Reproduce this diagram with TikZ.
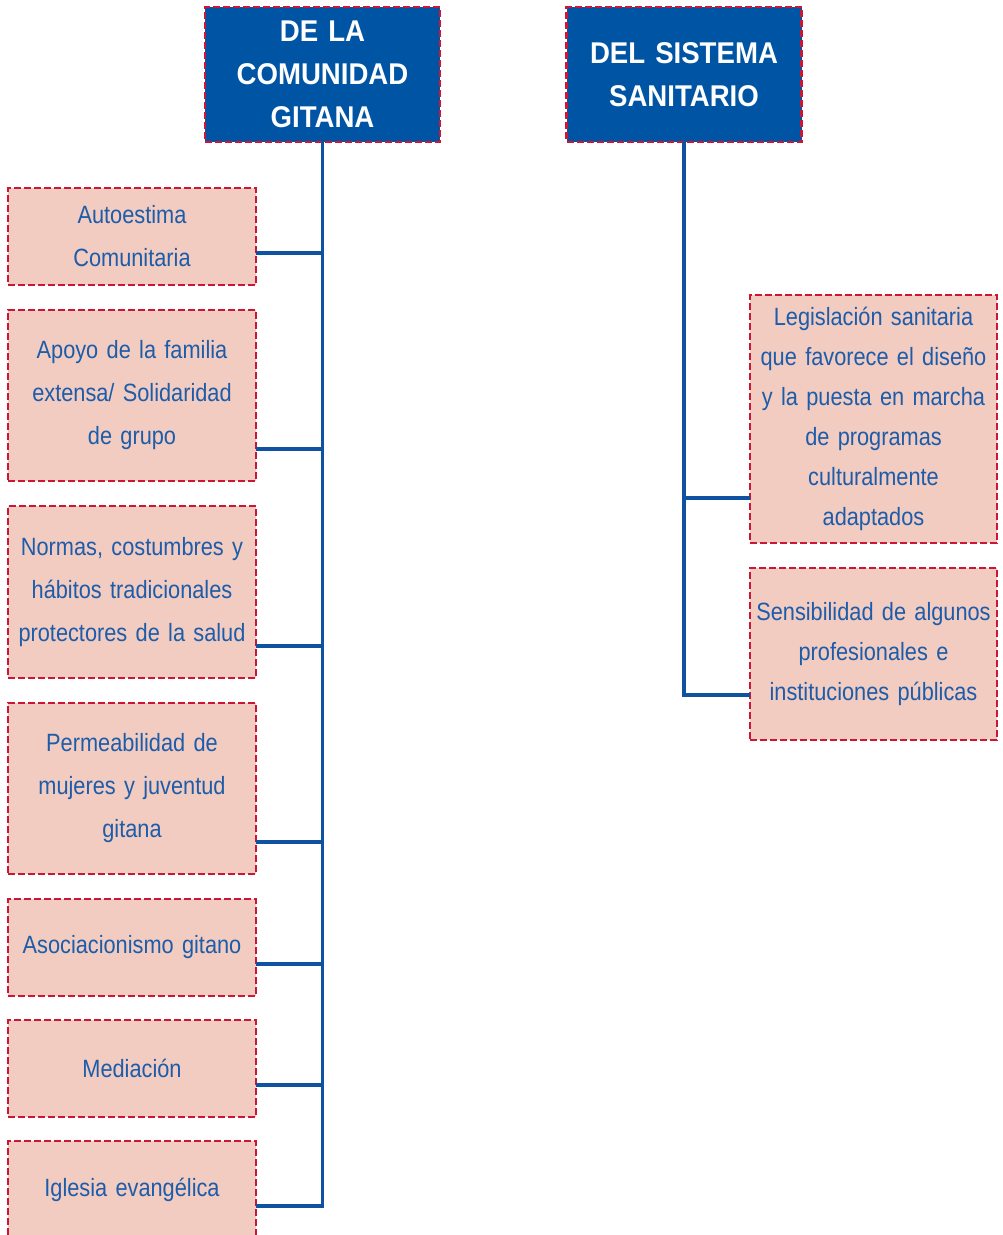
\documentclass[tikz,border=0pt]{standalone}
\usepackage{fontspec}
\setmainfont{Liberation Sans}[FakeStretch=0.87,WordSpace=0.75]
\newfontfamily\hdfont{Liberation Sans}[FakeStretch=0.92]
\usepackage{tikz}
\usetikzlibrary{calc}
\definecolor{hdb}{RGB}{0,84,164}
\definecolor{txb}{RGB}{28,92,170}
\definecolor{lnb}{RGB}{16,82,162}
\definecolor{rim}{RGB}{204,22,54}
\definecolor{pk}{RGB}{242,204,192}

\begin{document}
\begin{tikzpicture}[x=1pt,y=-1pt,
  hd/.style={draw=rim,fill=hdb,line width=2.8pt,dash pattern=on 7pt off 3pt,outer sep=0pt,inner sep=0pt,minimum width=235pt,minimum height=135pt,text width=230pt,align=center,text=white,font=\hdfont\bfseries\fontsize{30}{43}\selectfont},
  lf/.style={draw=rim,fill=pk,line width=2.8pt,dash pattern=on 7pt off 3pt,outer sep=0pt,inner sep=0pt,minimum width=248pt,text width=244pt,align=center,text=txb,font=\fontsize{25}{43}\selectfont},
  conn/.style={lnb,line width=3.2pt}]
  \useasboundingbox (0,0) rectangle (1002,1235);
  \node[hd] (hdA) at (322.5,74.5) {DE LA\\COMUNIDAD\\GITANA};
  \node[hd] (hdB) at (684,74.5) {DEL SISTEMA\\SANITARIO};
  \foreach \n/\y/\h/\t in {1/236.5/97/{Autoestima\\Comunitaria},2/395.5/171/{Apoyo de la familia\\extensa/ Solidaridad\\de grupo},3/592/172/{Normas, costumbres y\\hábitos tradicionales\\protectores de la salud},4/788.5/171/{Permeabilidad de\\mujeres y juventud\\gitana},5/947.5/97/{Asociacionismo gitano},6/1068.5/97/{Mediación},7/1189.5/97/{Iglesia evangélica}}
    \node[lf,minimum height=\h pt] (l\n) at (132,\y) {\t};
  \foreach \n/\y/\h/\t in {1/419/248/{Legislación sanitaria\\que favorece el diseño\\y la puesta en marcha\\de programas\\culturalmente\\adaptados},2/654/172/{Sensibilidad de algunos\\profesionales e\\instituciones públicas}}
    \node[lf,minimum width=247pt,minimum height=\h pt,font=\fontsize{25}{40}\selectfont] (r\n) at (873.5,\y) {\t};
  \foreach \n in {1,...,6} {\coordinate (j\n) at ($(l\n.south east)+(0,-32)$); \draw[conn] (j\n) -- (hdA.south |- j\n);}
  \coordinate (j7) at ($(l7.south east)+(0,-32)$);
  \draw[conn] (hdA.south) |- (j7);
  \coordinate (k1) at ($(r1.south west)+(0,-45)$); \draw[conn] (k1) -- (hdB.south |- k1);
  \coordinate (k2) at ($(r2.south west)+(0,-45)$);
  \draw[conn] (hdB.south) |- (k2);
\end{tikzpicture}
\end{document}
